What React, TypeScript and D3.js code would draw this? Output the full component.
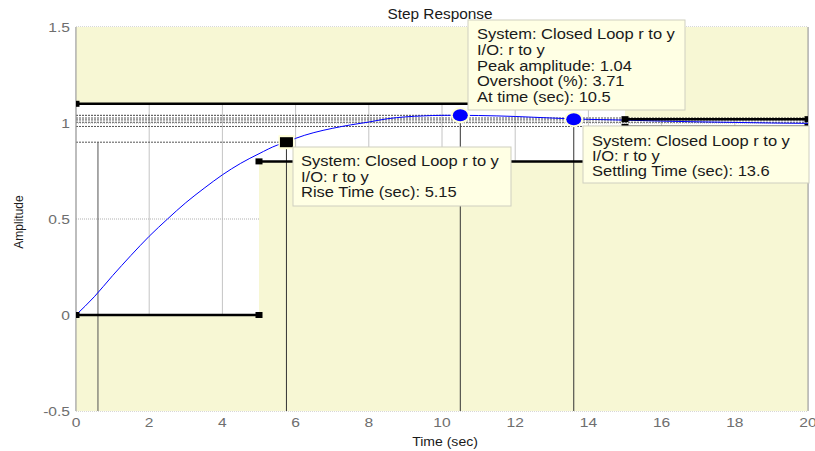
import React from 'react';
import * as d3 from 'd3';

// ---- data ----
const timeValues = [0, 0.5, 1, 1.5, 2, 2.5, 3, 3.5, 4, 4.5, 5, 5.5, 5.75, 6, 6.5, 7, 7.5, 8, 8.5, 9, 9.5, 10, 10.5, 11, 11.5, 12, 12.5, 13, 13.6, 14, 15, 16, 17, 18, 19, 20];
const amplitudeValues = [0, 0.095, 0.205, 0.31, 0.41, 0.5, 0.585, 0.66, 0.73, 0.79, 0.84, 0.885, 0.9, 0.92, 0.95, 0.972, 0.99, 1.005, 1.022, 1.032, 1.037, 1.04, 1.04, 1.039, 1.037, 1.034, 1.03, 1.026, 1.021, 1.019, 1.015, 1.01, 1.006, 1.003, 1.0, 0.998];

const xTicks = [0, 2, 4, 6, 8, 10, 12, 14, 16, 18, 20];
const yTicks = [-0.5, 0, 0.5, 1, 1.5];
const yTickLabels = ['-0.5', '0', '0.5', '1', '1.5'];

// bound edges [t0, t1, value]
const upperBoundT0 = [0, 15];
const upperBoundT1 = [15, 20];
const upperBoundV = [1.1, 1.02];
const lowerBoundT0 = [0, 5, 15];
const lowerBoundT1 = [5, 15, 20];
const lowerBoundV = [0, 0.8, 0.98];

// characteristic values
const riseLow = { t: 0.6, v: 0.1 };
const riseHigh = { t: 5.75, v: 0.9 };
const peak = { t: 10.5, v: 1.04 };
const settle = { t: 13.6, v: 1.02 };
const refLevels = [1.026, 1.016, 1.004, 0.982];

const peakTip = ['System: Closed Loop r to y', 'I/O: r to y', 'Peak amplitude: 1.04', 'Overshoot (%): 3.71', 'At time (sec): 10.5'];
const riseTip = ['System: Closed Loop r to y', 'I/O: r to y', 'Rise Time (sec): 5.15'];
const settleTip = ['System: Closed Loop r to y', 'I/O: r to y', 'Settling Time (sec): 13.6'];

const FONT = '"Liberation Sans", Arial, sans-serif';
const YELLOW = '#F7F7D4';
const TIPFILL = '#FFFFE4';

function SText(props: { x: number; y: number; size: number; sx?: number; anchor?: string; fill?: string; rotate?: number; children: any }) {
  const { x, y, size, sx = 1.1, anchor = 'start', fill = '#1a1a1a', rotate = 0, children } = props;
  const tr = rotate ? `translate(${x},${y}) rotate(${rotate}) scale(1,${sx})` : `translate(${x},${y}) scale(${sx},1)`;
  return (
    <text transform={tr} fontSize={size} fontFamily={FONT} textAnchor={anchor} fill={fill}>
      {children}
    </text>
  );
}

function Tip(props: { x: number; y: number; w: number; h: number; tx: number; ty: number; lines: string[]; dy: number }) {
  const { x, y, w, h, tx, ty, lines, dy } = props;
  return (
    <g>
      <rect x={x} y={y} width={w} height={h} fill={TIPFILL} stroke="#cfcfc0" strokeWidth={1} />
      {lines.map((l, i) => (
        <SText key={i} x={tx} y={ty + i * dy} size={15} sx={1.1}>
          {l}
        </SText>
      ))}
    </g>
  );
}

export default function App() {
  const x = d3.scaleLinear().domain([0, 20]).range([76, 808]);
  const y = d3.scaleLinear().domain([-0.5, 1.5]).range([411, 27]);
  const [x0, x1] = x.range();
  const [yb, yt] = y.range();

  const line = d3
    .line<number>()
    .x((_, i) => x(timeValues[i]))
    .y((d) => y(d))
    .curve(d3.curveMonotoneX);

  const upperPts: [number, number][] = [[x(0), y(1.5)]];
  upperBoundV.forEach((v, i) => {
    upperPts.push([x(upperBoundT0[i]), y(v)], [x(upperBoundT1[i]), y(v)]);
  });
  upperPts.push([x(20), y(1.5)]);
  const lowerPts: [number, number][] = [[x(0), y(-0.5)]];
  lowerBoundV.forEach((v, i) => {
    lowerPts.push([x(lowerBoundT0[i]), y(v)], [x(lowerBoundT1[i]), y(v)]);
  });
  lowerPts.push([x(20), y(-0.5)]);
  const poly = d3.line();

  const edges = [
    ...upperBoundV.map((v, i) => ({ t0: upperBoundT0[i], t1: upperBoundT1[i], v })),
    ...lowerBoundV.map((v, i) => ({ t0: lowerBoundT0[i], t1: lowerBoundT1[i], v })),
  ];

  return (
    <svg width={815} height={451} style={{ position: 'absolute', left: 0, top: 0, background: '#fff' }}>
      <defs>
        <clipPath id="plotClip">
          <rect x={x0} y={yt} width={x1 - x0} height={yb - yt} />
        </clipPath>
      </defs>
      {/* grid */}
      {xTicks.map((t) => (
        <line key={'gx' + t} x1={x(t)} x2={x(t)} y1={yt} y2={yb} stroke="#c4c4c4" strokeWidth={1} />
      ))}
      {yTicks.map((t) => (
        <line key={'gy' + t} x1={x0} x2={x1} y1={y(t)} y2={y(t)} stroke="#b0b0b0" strokeWidth={1} strokeDasharray="1,1" />
      ))}
      {/* bound patches */}
      <path d={poly(upperPts) + 'Z'} fill={YELLOW} />
      <path d={poly(lowerPts) + 'Z'} fill={YELLOW} />

      {/* characteristic lines */}
      {refLevels.map((v) => (
        <line key={'r' + v} x1={x0} x2={x1} y1={y(v)} y2={y(v)} stroke="#555" strokeWidth={1} strokeDasharray="2,1" />
      ))}
      <line x1={x0} x2={x(peak.t)} y1={y(peak.v)} y2={y(peak.v)} stroke="#444" strokeWidth={1} strokeDasharray="2,1" />
      <line x1={x0} x2={x(riseHigh.t)} y1={y(riseHigh.v)} y2={y(riseHigh.v)} stroke="#555" strokeWidth={1} strokeDasharray="2,1" />
      <line x1={x(riseLow.t)} x2={x(riseLow.t)} y1={y(riseHigh.v)} y2={yb} stroke="#555" strokeWidth={1} />
      <line x1={x(riseHigh.t)} x2={x(riseHigh.t)} y1={y(riseHigh.v)} y2={yb} stroke="#333" strokeWidth={1} />
      <line x1={x(peak.t)} x2={x(peak.t)} y1={y(peak.v)} y2={yb} stroke="#333" strokeWidth={1} />
      <line x1={x(settle.t)} x2={x(settle.t)} y1={y(settle.v)} y2={yb} stroke="#333" strokeWidth={1} />

      {/* axes border */}
      <line x1={x0} x2={x0} y1={yt} y2={yb} stroke="#999" strokeWidth={1} />
      <line x1={x1} x2={x1} y1={yt} y2={yb} stroke="#999" strokeWidth={1} />

      {/* response */}
      <path d={line(amplitudeValues) || ''} fill="none" stroke="#0000ff" strokeWidth={1} />

      {/* bound edges */}
      <g clipPath="url(#plotClip)">
        {edges.map((e, i) => (
          <g key={'e' + i}>
            <line x1={x(e.t0)} x2={x(e.t1)} y1={y(e.v)} y2={y(e.v)} stroke="#000" strokeWidth={2.5} />
            <rect x={x(e.t0) - 3.5} y={y(e.v) - 3} width={7} height={6} fill="#000" />
            <rect x={x(e.t1) - 3.5} y={y(e.v) - 3} width={7} height={6} fill="#000" />
          </g>
        ))}
      </g>

      {/* markers */}
      <rect x={x(riseHigh.t) - 8} y={y(riseHigh.v) - 7} width={16} height={14} fill="#FFFFD8" />
      <rect x={x(riseHigh.t) - 6.5} y={y(riseHigh.v) - 5} width={13} height={10} fill="#000" />
      <ellipse cx={x(peak.t)} cy={y(peak.v)} rx={9.5} ry={8} fill="#FFFFD8" />
      <ellipse cx={x(peak.t)} cy={y(peak.v)} rx={7.5} ry={6} fill="#0000ff" />
      <ellipse cx={x(settle.t)} cy={y(settle.v)} rx={9.5} ry={8} fill="#FFFFD8" />
      <ellipse cx={x(settle.t)} cy={y(settle.v)} rx={7.5} ry={6} fill="#0000ff" />

      {/* tooltips */}
      <Tip x={468} y={20} w={217} h={90} tx={477} ty={39} lines={peakTip} dy={15.8} />
      <Tip x={293} y={147} w={218} h={59} tx={301} ty={166} lines={riseTip} dy={15.5} />
      <Tip x={583} y={126} w={226} h={57} tx={592} ty={145.5} lines={settleTip} dy={15.3} />

      {/* tick labels */}
      {yTicks.map((t, i) => (
        <SText key={'yl' + t} x={70} y={y(t) + 5} size={13} sx={1.2} anchor="end" fill="#6e6e6e">
          {yTickLabels[i]}
        </SText>
      ))}
      {xTicks.map((t) => (
        <SText key={'xl' + t} x={x(t)} y={427} size={13} sx={1.2} anchor="middle" fill="#6e6e6e">
          {String(t)}
        </SText>
      ))}

      {/* titles */}
      <SText x={440} y={19} size={14} sx={1.1} anchor="middle">
        Step Response
      </SText>
      <SText x={445} y={446} size={13} sx={1.08} anchor="middle">
        Time (sec)
      </SText>
      <SText x={23} y={222} size={12} sx={1.0} anchor="middle" rotate={-90}>
        Amplitude
      </SText>
    </svg>
  );
}
